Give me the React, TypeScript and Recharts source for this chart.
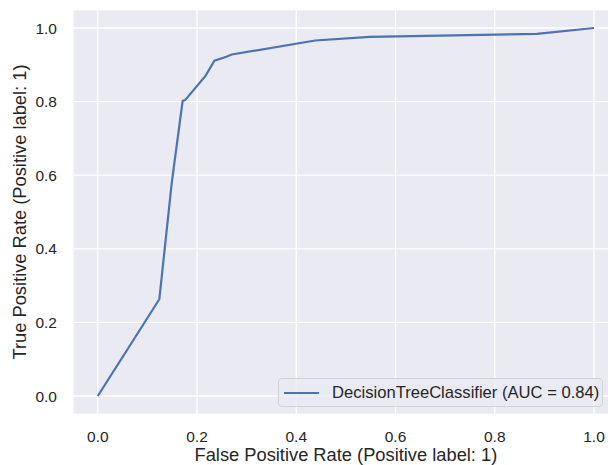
import { CartesianGrid, Line, LineChart, XAxis, YAxis } from "recharts";

const fpr = [0, 0.124, 0.149, 0.171, 0.176, 0.217, 0.235, 0.259, 0.27, 0.438, 0.548, 0.885, 1.0];
const tpr = [0, 0.263, 0.579, 0.802, 0.804, 0.87, 0.911, 0.922, 0.928, 0.966, 0.976, 0.984, 1.0];
const ticks = [0, 0.2, 0.4, 0.6, 0.8, 1.0];
const seriesName = "DecisionTreeClassifier (AUC = 0.84)";
const xLabel = "False Positive Rate (Positive label: 1)";
const yLabel = "True Positive Rate (Positive label: 1)";

const data = fpr.map((x, i) => ({ fpr: x, tpr: tpr[i] }));

const FONT = '"Liberation Sans", Arial, sans-serif';
const TEXT = "#262626";
const BLUE = "#4C72B0";

// legend drawn as a plain overlay so it doesn't eat into the plot area
function LegendBox() {
  return (
    <div
      style={{
        position: "absolute",
        left: 278,
        top: 378,
        width: 323,
        height: 27,
        border: "1px solid #d2d2d6",
        borderRadius: 4,
        background: "rgba(234,234,242,0.8)",
        display: "flex",
        alignItems: "center",
        fontFamily: FONT,
        fontSize: 16.6,
        color: TEXT,
        whiteSpace: "nowrap",
      }}
    >
      <div style={{ width: 35, height: 2, background: BLUE, marginLeft: 5, marginRight: 13 }} />
      <span>{seriesName}</span>
    </div>
  );
}

export default function App() {
  return (
    <div style={{ position: "fixed", left: 0, top: 0, width: 608, height: 465, overflow: "hidden", background: "#fff" }}>
      <LineChart width={620} height={465} data={data} margin={{ top: 9.6, right: 1.2, bottom: 0, left: 0 }}>
        <CartesianGrid fill="#EAEAF2" stroke="#ffffff" strokeWidth={1.3} />
        <XAxis
          dataKey="fpr"
          type="number"
          domain={[-0.05, 1.05]}
          ticks={ticks}
          allowDataOverflow
          height={50.6}
          axisLine={false}
          tickLine={false}
          tickSize={0}
          tickMargin={17}
          tickFormatter={(v: number) => v.toFixed(1)}
          tick={{ fill: TEXT, fontSize: 15.5, fontFamily: FONT }}
          label={{
            content: ({ viewBox }: any) => (
              <text
                x={viewBox.x + viewBox.width / 2}
                y={461}
                textAnchor="middle"
                fill={TEXT}
                fontSize={18.3}
                fontFamily={FONT}
              >
                {xLabel}
              </text>
            ),
          }}
        />
        <YAxis
          type="number"
          domain={[-0.05, 1.05]}
          ticks={ticks}
          allowDataOverflow
          width={73}
          axisLine={false}
          tickLine={false}
          tickSize={0}
          tickMargin={16}
          tickFormatter={(v: number) => v.toFixed(1)}
          tick={{ fill: TEXT, fontSize: 15.5, fontFamily: FONT }}
          label={{
            content: ({ viewBox }: any) => {
              const cx = 19;
              const cy = viewBox.y + viewBox.height / 2;
              return (
                <text
                  x={cx}
                  y={cy}
                  transform={`rotate(-90 ${cx} ${cy})`}
                  textAnchor="middle"
                  dominantBaseline="central"
                  fill={TEXT}
                  fontSize={18.3}
                  fontFamily={FONT}
                >
                  {yLabel}
                </text>
              );
            },
          }}
        />
        <Line
          type="linear"
          dataKey="tpr"
          name={seriesName}
          stroke={BLUE}
          strokeWidth={2.2}
          dot={false}
          isAnimationActive={false}
        />
      </LineChart>
      <LegendBox />
    </div>
  );
}
